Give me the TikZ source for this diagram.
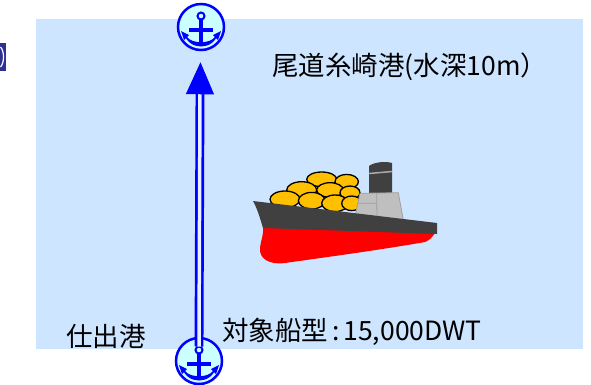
\documentclass[tikz,border=0pt]{standalone}
\usepackage{fontspec}
\setmainfont{Noto Sans CJK JP}
\usetikzlibrary{arrows.meta}

\definecolor{sea}{RGB}{206,229,255}
\definecolor{portfill}{RGB}{204,255,255}
\definecolor{channel}{RGB}{232,242,255}
\definecolor{cargo}{RGB}{255,192,0}
\definecolor{hulldark}{RGB}{64,64,64}
\definecolor{hullred}{RGB}{255,0,0}
\definecolor{bridge}{RGB}{191,191,191}
\definecolor{bridgeline}{RGB}{160,160,160}
\definecolor{funnelband}{RGB}{170,170,170}
\definecolor{tabnavy}{RGB}{46,49,146}

\begin{document}
\begin{tikzpicture}[x=1pt,y=-1pt,
		harbour/.style={circle, draw=blue, fill=portfill, line width=2.5pt, minimum size=46pt, inner sep=0pt},
		route/.style={draw=blue, line width=2.7pt, double=channel, double distance=3.5pt},
		maplabel/.style={font=\fontsize{26.5}{31}\selectfont, inner sep=0pt, anchor=west},
		anchormark/.pic={
			\draw[blue, line width=2pt] (0,-11) circle (3.5);
			\draw[blue, line width=3.5pt] (0,-7.5) -- (0,18);
			\draw[blue, line width=3.5pt] (-12,3) -- (12,3);
			\fill[blue] (-17,6) .. controls (-13,24) and (13,24) .. (17,6) -- (14,10) .. controls (9,17) and (-9,17) .. (-14,10) -- cycle;
			\fill[blue] (-20,4) -- (-12,8) -- (-17,13) -- cycle;
			\fill[blue] (20,4) -- (12,8) -- (17,13) -- cycle;
		}]
		\useasboundingbox (0,0) rectangle (591,384);
		\fill[tabnavy] (0,43) rectangle (6,71);
		\draw[white, line width=1.2pt] (0.5,47) .. controls (4.5,51) and (4.5,63) .. (0.5,67);
		\fill[sea] (36,19) rectangle (583,349);
		
		% ship: funnel, cargo, bridge, hull
		\fill[hulldark] (369,195) -- (369,166) .. controls (374,162) and (386,161) .. (392,163) -- (392,195) -- cycle;
		\draw[funnelband, line width=1.5pt] (369,173.5) -- (392,171.5);
		\foreach \cx/\cy/\rx/\ry in {321.7/179.3/15/7.3, 346.7/181.7/11.7/7.3, 301.7/190/15/8.3,
				330/190/13.3/7.3, 350/192.7/10/6.7, 285/199.3/15/8.3, 311.7/200.7/13.3/8.3,
				335/203.3/13.3/8.3, 351.7/203.3/10/7.3}
			\draw[fill=cargo, line width=1.3pt] (\cx,\cy) ellipse [x radius=\rx, y radius=\ry];
		\filldraw[fill=bridge, draw=bridgeline, line width=0.8pt] (360,193.3) -- (398.3,192.7) -- (403.3,220) -- (355,216.7) -- cycle;
		\draw[bridgeline, line width=0.8pt] (376.7,193) -- (377,219) (357.5,203.3) -- (376.7,203.3);
		\fill[hullred] (263,227) -- (435,233) .. controls (432,238) and (428,241) .. (425,242)
			.. controls (380,250) and (320,258) .. (285,263) .. controls (268,265) and (259,258) .. (260,248)
			.. controls (261,240) and (264,233) .. (263,227) -- cycle;
		\fill[hulldark] (253,201) -- (437,223) -- (437,234) -- (263,228) .. controls (260,218) and (257,208) .. (253,201) -- cycle;
		
		% ports and the route between them
		\node[harbour] (onomichi) at (201,27) {};
		\node[harbour] (shide) at (199,361) {};
		\pic at (onomichi) {anchormark};
		\pic at (shide) {anchormark};
		\coordinate (shaft) at (200,93);
		\draw[route] ([yshift=14.5pt]shide.center) -- (shaft);
		\draw[blue, line width=1pt, -{Triangle[length=32pt,width=28pt]}, shorten >=11pt] (shaft) -- (onomichi);
		
		\node[maplabel] (onomichilabel) at (272,67) {尾道糸崎港(水深10m）};
		\node[maplabel] (shidelabel) at (66,336) {仕出港};
		\node[maplabel] (shiplabel) at (222,332) {対象船型\hspace{4pt}:\hspace{4pt}15,000DWT};
	\end{tikzpicture}
\end{document}
